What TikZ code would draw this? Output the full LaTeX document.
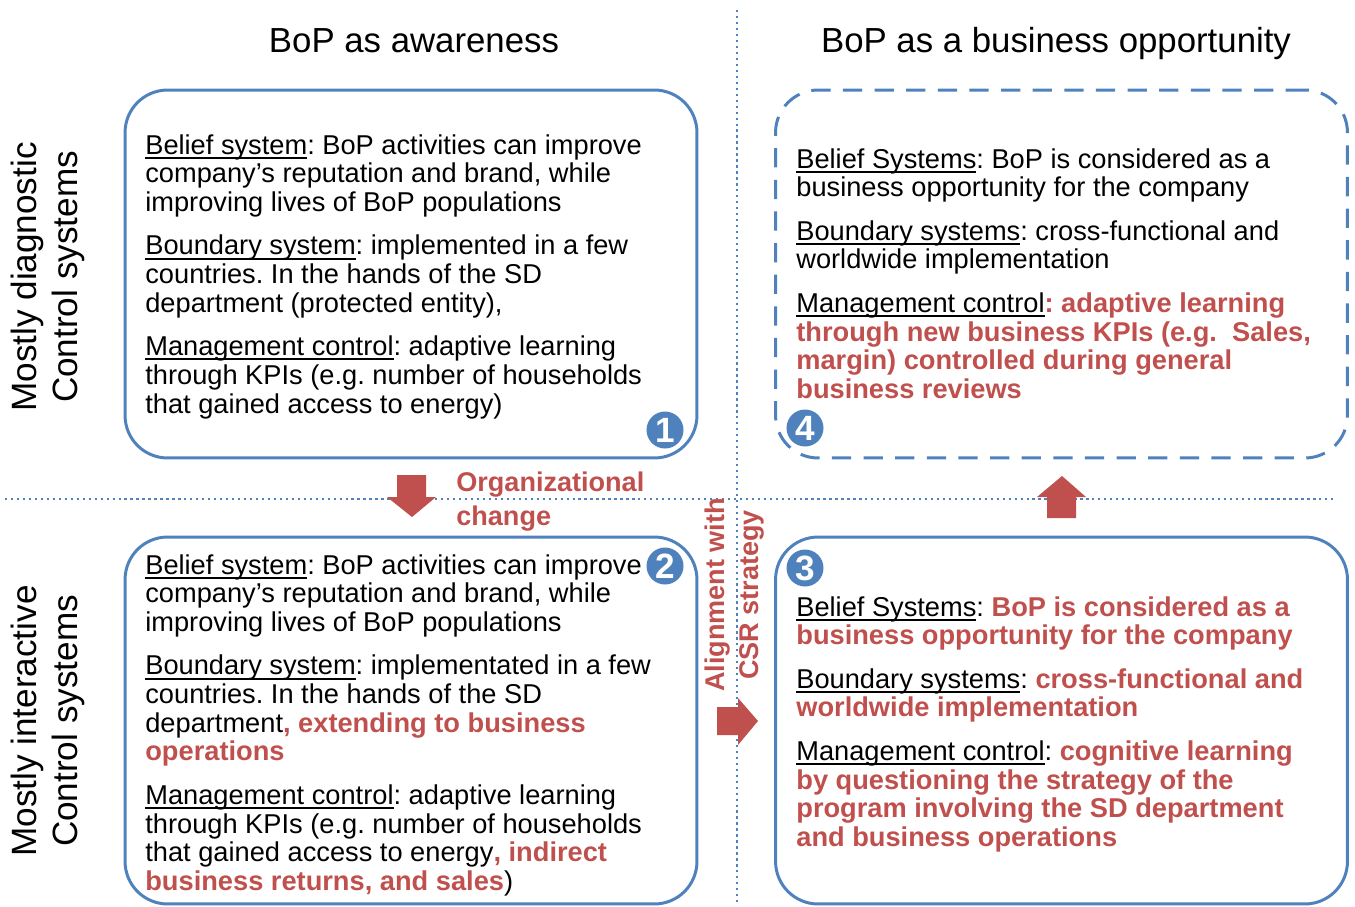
\documentclass[tikz,border=0pt]{standalone}
\usepackage{fontspec}
\setmainfont{Liberation Sans}
\usetikzlibrary{arrows.meta,positioning}

\definecolor{bopblue}{RGB}{79,129,189}
\definecolor{bopred}{RGB}{192,80,77}

\frenchspacing
\newsavebox{\undlbox}
\newcommand{\undl}[1]{\sbox{\undlbox}{#1}\rlap{\rule[-2.6pt]{\wd\undlbox}{1.1pt}}\usebox{\undlbox}}
\newcommand{\redb}[1]{\textcolor{bopred}{\bfseries #1}}

\tikzset{
  quadbox/.style={draw=bopblue, line width=1.7pt, rounded corners=0.85cm,
    minimum width=11.44cm, minimum height=7.36cm, inner sep=0},
  bodytext/.style={anchor=north west, align=left, inner sep=0,
    font=\fontsize{15.5}{16.3}\selectfont},
  numdot/.style={circle, fill=bopblue, text=white, inner sep=0,
    minimum size=0.74cm, font=\bfseries\fontsize{20}{20}\selectfont},
  redlabel/.style={text=bopred, inner sep=0, align=left,
    font=\bfseries\fontsize{15.4}{19.3}\selectfont},
  sidelabel/.style={rotate=90, align=center, inner sep=0,
    font=\fontsize{20}{23.2}\selectfont},
  divider/.style={bopblue, line width=1.2pt, dash pattern=on 1.3pt off 2.1pt},
  blockarrow/.style={fill=bopred}
}

\begin{document}
\begin{tikzpicture}[x=0.02cm, y=-0.02cm]
  \useasboundingbox (0,0) rectangle (1355,906);

  % Dividers
  \draw[divider] (737,10) -- (737,906);
  \draw[divider] (5,499) -- (1337,499);

  % Column heads
  \node[font=\fontsize{19.8}{22}\selectfont, anchor=base] (headl) at (414,52) {BoP as awareness};
  \node[font=\fontsize{19.8}{22}\selectfont, anchor=base] (headr) at (1056,52) {BoP as a business opportunity};

  % Row heads
  \node[sidelabel] (rowtop) at (48,277) {Mostly diagnostic\\Control systems};
  \node[sidelabel] (rowbot) at (48,721) {Mostly interactive\\Control systems};

  % Box 1: awareness, diagnostic
  \node[quadbox] (b1) at (411,274) {};
  \node[bodytext] (t1) at (145,134) {%
    \undl{Belief system}: BoP activities can improve\\
    company’s reputation and brand, while\\
    improving lives of BoP populations\\[8.5pt]
    \undl{Boundary system}: implemented in a few\\
    countries. In the hands of the SD\\
    department (protected entity),\\[8.5pt]
    \undl{Management control}: adaptive learning\\
    through KPIs (e.g. number of households\\
    that gained access to energy)};
  \node[numdot] (n1) at (665,430) {1};

  % Box 4: business opportunity, diagnostic
  \node[quadbox, dash pattern=on 11pt off 7pt] (b4) at (1061.5,274) {};
  \node[bodytext] (t4) at (796,148) {%
    \undl{Belief Systems}: BoP is considered as a\\
    business opportunity for the company\\[8.5pt]
    \undl{Boundary systems}: cross-functional and\\
    worldwide implementation\\[8.5pt]
    \undl{Management control}\redb{: adaptive learning}\\
    \redb{through new business KPIs (e.g.\ \ Sales,}\\
    \redb{margin) controlled during general}\\
    \redb{business reviews}};
  \node[numdot] (n4) at (805,428) {4};

  % Box 2: awareness, interactive
  \node[quadbox, minimum height=7.34cm] (b2) at (411,720.5) {};
  \node[bodytext] (t2) at (145,554) {%
    \undl{Belief system}: BoP activities can improve\\
    company’s reputation and brand, while\\
    improving lives of BoP populations\\[8.5pt]
    \undl{Boundary system}: implementated in a few\\
    countries. In the hands of the SD\\
    department\redb{, extending to business}\\
    \redb{operations}\\[8.5pt]
    \undl{Management control}: adaptive learning\\
    through KPIs (e.g. number of households\\
    that gained access to energy\redb{, indirect}\\
    \redb{business returns, and sales})};
  \node[numdot] (n2) at (665,566) {2};

  % Box 3: business opportunity, interactive
  \node[quadbox, minimum height=7.34cm] (b3) at (1061.5,720.5) {};
  \node[bodytext] (t3) at (796,596) {%
    \undl{Belief Systems}: \redb{BoP is considered as a}\\
    \redb{business opportunity for the company}\\[8.5pt]
    \undl{Boundary systems}: \redb{cross-functional and}\\
    \redb{worldwide implementation}\\[8.5pt]
    \undl{Management control}: \redb{cognitive learning}\\
    \redb{by questioning the strategy of the}\\
    \redb{program involving the SD department}\\
    \redb{and business operations}};
  \node[numdot] (n3) at (805,568) {3};

  % Transitions
  \fill[blockarrow] (397,475) -- (426,475) -- (426,497) -- (436,497) -- (412,517)
    -- (387,497) -- (397,497) -- cycle;
  \node[redlabel, anchor=north west] (orgchange) at (456,472) {Organizational\\change};

  \fill[blockarrow] (717,707) -- (738,707) -- (738,698) -- (758,721) -- (738,745)
    -- (738,735) -- (717,735) -- cycle;
  \node[redlabel, rotate=90, align=center] (csr) at (735,595) {Alignment with\\CSR strategy};

  \fill[blockarrow] (1047,518) -- (1076,518) -- (1076,497) -- (1086,497) -- (1062,476)
    -- (1037,497) -- (1047,497) -- cycle;
\end{tikzpicture}
\end{document}
